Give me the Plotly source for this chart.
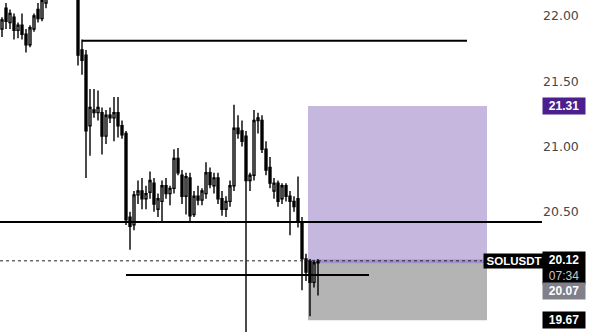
import plotly.graph_objects as go

# ---- data (prices) ----
opens = [21.90, 22.06, 21.95, 21.99, 21.89, 21.93, 21.86, 21.78, 21.90, 22.05,
         21.98, 22.10, 22.16, 22.20, 22.26, 22.30, 22.28, 22.33, 22.30, 22.30,
         21.74, 21.70, 21.16, 21.28, 21.26, 21.26, 21.08, 21.24, 21.22, 21.26,
         21.16, 21.10, 20.46, 20.40, 20.63, 20.66, 20.60, 20.65, 20.72, 20.52,
         20.58, 20.70, 20.64, 20.68, 20.91, 20.78, 20.62, 20.76, 20.48, 20.62,
         20.59, 20.64, 20.80, 20.70, 20.76, 20.60, 20.52, 20.58, 20.70, 21.14,
         21.12, 21.08, 20.74, 20.78, 21.20, 21.20, 20.98, 20.84, 20.66, 20.72,
         20.60, 20.70, 20.62, 20.58, 20.60, 20.42, 20.14, 20.12, 19.96, 20.11]
highs = [21.99, 22.10, 22.05, 22.02, 21.95, 22.02, 21.90, 21.93, 22.02, 22.10,
         22.15, 22.20, 22.25, 22.32, 22.36, 22.38, 22.37, 22.40, 22.36, 22.35,
         21.82, 21.74, 21.44, 21.44, 21.43, 21.30, 21.28, 21.30, 21.38, 21.38,
         21.20, 21.12, 20.50, 20.66, 20.74, 20.76, 20.70, 20.81, 20.76, 20.64,
         20.74, 20.76, 20.70, 20.98, 20.99, 20.82, 20.80, 20.80, 20.66, 20.70,
         20.68, 20.88, 20.84, 20.80, 20.80, 20.66, 20.62, 20.74, 21.32, 21.24,
         21.20, 21.12, 20.80, 21.28, 21.26, 21.24, 21.04, 20.92, 20.76, 20.74,
         20.72, 20.72, 20.66, 20.62, 20.77, 20.46, 20.18, 20.14, 20.13, 20.14]
lows = [21.84, 21.90, 21.90, 21.82, 21.83, 21.82, 21.72, 21.76, 21.88, 21.95,
        21.96, 22.06, 22.13, 22.16, 22.22, 22.25, 22.24, 22.27, 22.25, 21.62,
        21.55, 20.76, 20.93, 21.22, 21.20, 20.94, 21.02, 21.18, 21.04, 21.07,
        21.06, 20.40, 20.21, 20.36, 20.56, 20.52, 20.52, 20.60, 20.50, 20.46,
        20.43, 20.60, 20.55, 20.64, 20.78, 20.56, 20.48, 20.42, 20.46, 20.55,
        20.55, 20.60, 20.68, 20.64, 20.56, 20.47, 20.46, 20.54, 20.66, 21.06,
        21.00, 19.50, 20.66, 20.74, 21.10, 20.95, 20.78, 20.68, 20.60, 20.54,
        20.56, 20.58, 20.32, 20.50, 20.38, 19.90, 19.97, 19.70, 19.92, 19.86]
closes = [21.97, 21.96, 22.02, 21.89, 21.93, 21.86, 21.78, 21.91, 22.00, 21.98,
          22.12, 22.16, 22.20, 22.28, 22.32, 22.29, 22.34, 22.31, 22.31, 21.70,
          21.66, 21.12, 21.30, 21.26, 21.30, 21.08, 21.24, 21.22, 21.26, 21.16,
          21.09, 20.44, 20.39, 20.63, 20.66, 20.60, 20.64, 20.74, 20.56, 20.60,
          20.70, 20.64, 20.68, 20.91, 20.80, 20.62, 20.77, 20.47, 20.62, 20.59,
          20.66, 20.80, 20.71, 20.76, 20.60, 20.52, 20.58, 20.70, 21.14, 21.10,
          21.04, 20.74, 20.78, 21.20, 21.22, 20.98, 20.82, 20.72, 20.72, 20.58,
          20.70, 20.62, 20.58, 20.54, 20.42, 20.14, 20.04, 19.96, 20.11, 20.12]
bars = list(range(len(closes)))

tick_vals = [20.50, 21.00, 21.50, 22.00]
tick_text = ["20.50", "21.00", "21.50", "22.00"]

# drawn levels: (price, start bar, end bar)
level_prices = [21.81, 20.017]
level_starts = [20, 31]
level_ends = [116.25, 91.75]
support_price = 20.423
last_price = 20.12
entry_price = 20.10
target_price = 21.31
stop_price = 19.67
position_start = 76.5

symbol = "SOLUSDT"
countdown = "07:34"
mark_price = "20.07"

# ---- layout constants ----
W, H = 594, 332
PLOT_W = 487
X_MAX = 121.25
Y_MIN, Y_MAX = 19.58, 22.1225

fig = go.Figure()
fig.add_trace(go.Candlestick(
    x=bars, open=opens, high=highs, low=lows, close=closes,
    increasing=dict(line=dict(color="black", width=1.4), fillcolor="white"),
    decreasing=dict(line=dict(color="black", width=1.4), fillcolor="black"),
    whiskerwidth=0, showlegend=False, hoverinfo="skip",
))

shapes = []
# position tool boxes
shapes.append(dict(type="rect", xref="x", yref="y", x0=position_start, x1=X_MAX,
                   y0=entry_price, y1=target_price, fillcolor="#c5b7de",
                   line=dict(width=0), layer="below"))
shapes.append(dict(type="rect", xref="x", yref="y", x0=position_start, x1=X_MAX,
                   y0=stop_price, y1=entry_price, fillcolor="#b4b4b4",
                   line=dict(width=0), layer="below"))
shapes.append(dict(type="line", xref="x", yref="y", x0=position_start, x1=X_MAX,
                   y0=entry_price + 0.02, y1=entry_price + 0.02,
                   line=dict(color="#a38fcc", width=4), layer="below"))
# horizontal levels
for p, s, e in zip(level_prices, level_starts, level_ends):
    shapes.append(dict(type="line", xref="x", yref="y", x0=s, x1=e, y0=p, y1=p,
                       line=dict(color="black", width=2)))
shapes.append(dict(type="line", xref="paper", yref="y", x0=0, x1=542 / PLOT_W,
                   y0=support_price, y1=support_price,
                   line=dict(color="black", width=2)))
# last price dotted line
shapes.append(dict(type="line", xref="paper", yref="y", x0=0, x1=482 / PLOT_W,
                   y0=last_price + 0.005, y1=last_price + 0.005,
                   line=dict(color="#222", width=1, dash="dot")))


def py(pix):
    return 1 - pix / H


def lab(text, xc, yc, w, bg, color="white", size=12):
    return dict(text=text, xref="paper", yref="paper", x=xc / PLOT_W, y=py(yc),
                xanchor="center", yanchor="middle", showarrow=False,
                bgcolor=bg, width=w, borderpad=1, align="center",
                font=dict(family="Liberation Sans", size=size, color=color))


annotations = [
    lab(f"<b>{target_price:.2f}</b>", 564, 106, 40, "#4b1f8e"),
    lab(f"<b>{symbol}</b>", 514, 261, 58, "black", size=11.5),
    lab(f"<b>{last_price:.2f}</b><br><span style='color:#c8c8c8'>{countdown}</span>",
        564, 268, 40, "black"),
    lab(f"<b>{mark_price}</b>", 564, 291, 40, "#80808a"),
    lab(f"<b>{stop_price:.2f}</b>", 564, 320, 40, "black"),
]

fig.update_layout(
    template="none",
    width=W, height=H,
    margin=dict(l=0, r=W - PLOT_W, t=0, b=0, pad=0),
    paper_bgcolor="white", plot_bgcolor="white",
    shapes=shapes, annotations=annotations,
    xaxis=dict(range=[-0.5, X_MAX], visible=False, rangeslider=dict(visible=False),
               automargin=False, fixedrange=True),
    yaxis=dict(range=[Y_MIN, Y_MAX], side="right", tickvals=tick_vals, ticktext=tick_text,
               showgrid=False, zeroline=False, showline=False, ticks="",
               ticklabelstandoff=55, automargin=False,
               tickfont=dict(family="DejaVu Sans", size=12.5, color="#474747")),
)

fig.write_html("out.html")
